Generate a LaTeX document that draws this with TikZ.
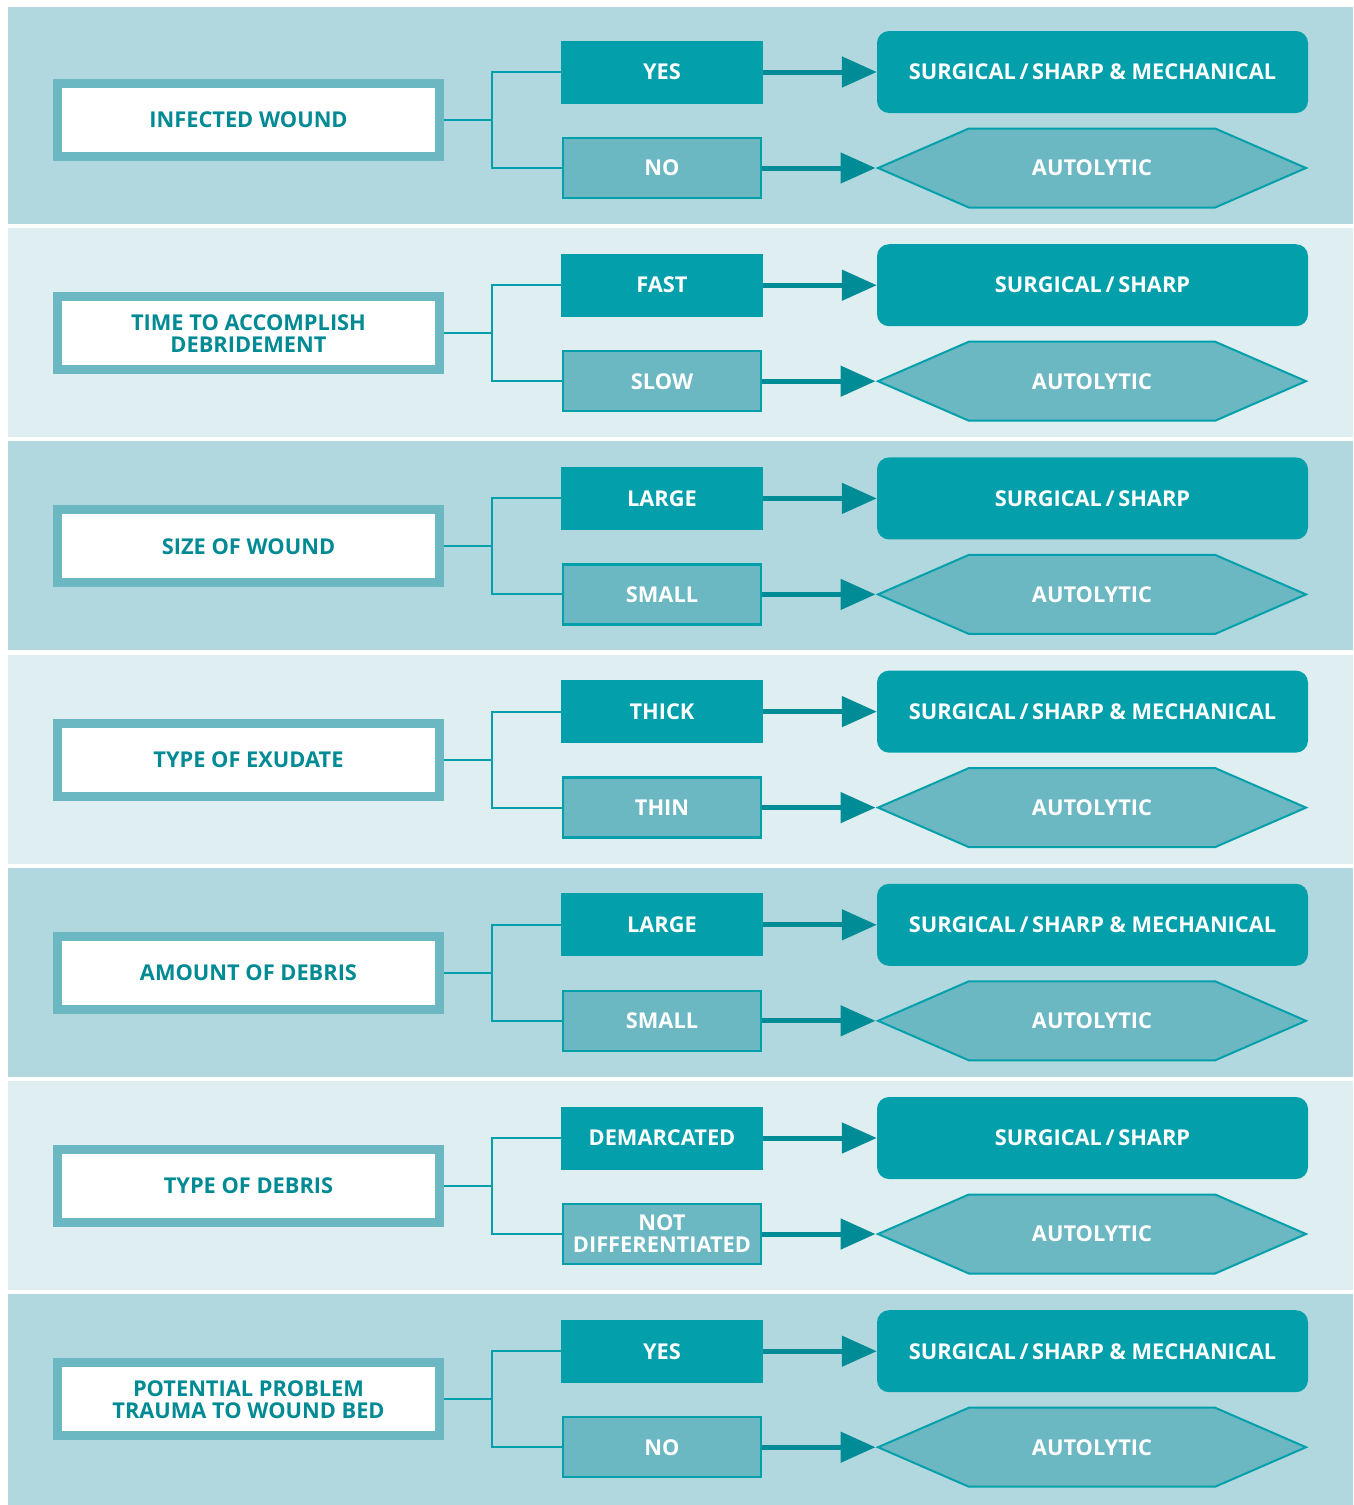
\documentclass[tikz,border=0pt]{standalone}
\usepackage{fontspec}
\setmainfont{Open Sans}
\usetikzlibrary{arrows.meta}
\usetikzlibrary{shapes.symbols}
\usetikzlibrary{positioning}
\definecolor{banddark}{HTML}{B2D8DF}
\definecolor{bandlight}{HTML}{DFEEF1}
\definecolor{tealdark}{HTML}{03A0AB}
\definecolor{teallight}{HTML}{6CB8C2}
\definecolor{tealtext}{HTML}{008A94}
\definecolor{tealarrow}{HTML}{008C96}

\begin{document}
\begin{tikzpicture}[x=1pt,y=-1pt,
  font=\fontsize{21.8}{22}\selectfont\bfseries,
  question/.style={draw=teallight, line width=9pt, fill=white, text=tealtext,
    minimum width=382pt, minimum height=73pt, align=center, inner sep=0pt},
  answertop/.style={fill=tealdark, text=white, minimum width=202pt,
    minimum height=63pt, align=center, inner sep=0pt},
  answerbot/.style={fill=teallight, draw=tealdark, line width=2.5pt, text=white,
    minimum width=198pt, minimum height=60pt, align=center, inner sep=0pt},
  method/.style={fill=tealdark, text=white, rounded corners=12pt,
    minimum width=431pt, minimum height=82pt, inner sep=0pt},
  autolytic/.style={shape=signal, signal to=west and east, signal pointer angle=47,
    fill=teallight, draw=tealdark, line width=2pt, text=white,
    minimum width=428pt, minimum height=79pt, inner sep=0pt},
  link/.style={tealdark, line width=2pt},
  arr/.style={tealarrow, line width=5pt, -{Triangle[length=35pt,width=30pt]}}]

\fill[white] (0,0) rectangle (1354,1505);
\foreach \i/\c/\q/\a/\b/\r in {
  0/banddark/{INFECTED WOUND}/YES/NO/{SURGICAL\,/\,SHARP \& MECHANICAL},
  1/bandlight/{TIME TO ACCOMPLISH\\DEBRIDEMENT}/FAST/SLOW/{SURGICAL\,/\,SHARP},
  2/banddark/{SIZE OF WOUND}/LARGE/SMALL/{SURGICAL\,/\,SHARP},
  3/bandlight/{TYPE OF EXUDATE}/THICK/THIN/{SURGICAL\,/\,SHARP \& MECHANICAL},
  4/banddark/{AMOUNT OF DEBRIS}/LARGE/SMALL/{SURGICAL\,/\,SHARP \& MECHANICAL},
  5/bandlight/{TYPE OF DEBRIS}/DEMARCATED/{NOT\\DIFFERENTIATED}/{SURGICAL\,/\,SHARP},
  6/banddark/{POTENTIAL PROBLEM\\TRAUMA TO WOUND BED}/YES/NO/{SURGICAL\,/\,SHARP \& MECHANICAL}} {
  \pgfmathsetmacro{\y}{72+213.2*\i}
  \pgfmathsetmacro{\yt}{\i==0 ? 7 : \y-57}
  \pgfmathsetmacro{\yb}{\i==6 ? 1505 : \y+152}
  \fill[\c] (8,\yt) rectangle (1353,\yb);
  % question, answers and methods
  \node[question] (q\i) at (248.5,\y+48) {\q};
  \node[answertop] (a\i) at (662,\y) {\a};
  \node[answerbot] (b\i) at (662,\y+96) {\b};
  \node[method] (m\i) at (1092.5,\y) {\r};
  \node[autolytic] (h\i) at (1092,\y+96) {AUTOLYTIC};
  \draw[link] (q\i.east) -- ++(48,0) |- (a\i.west);
  \draw[link] (q\i.east) -- ++(48,0) |- (b\i.west);
  \draw[arr] (a\i.east) -- (m\i.west);
  \draw[arr] (b\i.east) -- (h\i.west);
}
\end{tikzpicture}
\end{document}
